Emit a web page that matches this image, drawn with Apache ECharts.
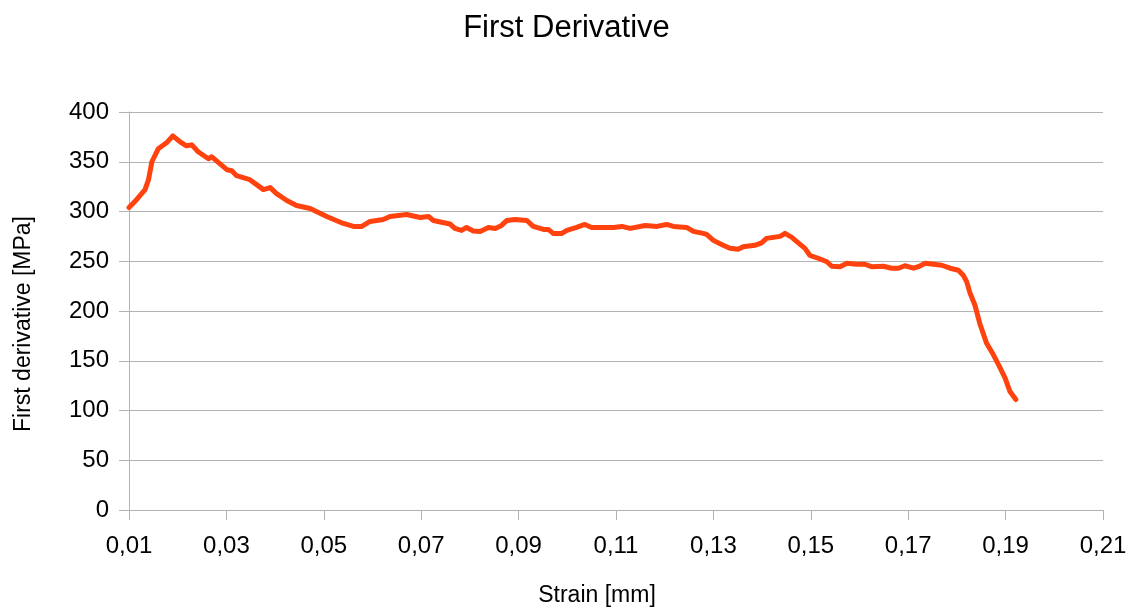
<!DOCTYPE html>
<html>
<head>
<meta charset="utf-8">
<script src="https://cdn.jsdelivr.net/npm/echarts@6/dist/echarts.min.js"></script>
<style>
html,body{margin:0;padding:0;background:#fff;}
#chart{width:1133px;height:615px;}
</style>
</head>
<body>
<div id="chart"></div>
<script>
var strain = [
0.0100,0.0112,0.0133,0.0140,0.0147,0.0160,0.0177,0.0190,0.0205,0.0218,
0.0229,0.0242,0.0263,0.0270,0.0301,0.0311,0.0321,0.0348,0.0362,0.0376,
0.0390,0.0403,0.0424,0.0444,0.0472,0.0506,0.0540,0.0561,0.0578,0.0595,
0.0622,0.0636,0.0670,0.0698,0.0715,0.0725,0.0759,0.0769,0.0783,0.0793,
0.0807,0.0821,0.0838,0.0852,0.0865,0.0876,0.0893,0.0917,0.0930,0.0951,
0.0961,0.0971,0.0989,0.0999,0.1019,0.1036,0.1050,0.1067,0.1095,0.1112,
0.1129,0.1160,0.1184,0.1204,0.1218,0.1245,0.1259,0.1279,0.1286,0.1300,
0.1320,0.1334,0.1351,0.1361,0.1385,0.1399,0.1409,0.1423,0.1437,0.1447,
0.1461,0.1478,0.1488,0.1498,0.1515,0.1533,0.1543,0.1560,0.1574,0.1594,
0.1611,0.1625,0.1649,0.1666,0.1680,0.1693,0.1711,0.1721,0.1735,0.1752,
0.1769,0.1786,0.1803,0.1813,0.1820,0.1827,0.1837,0.1847,0.1861,0.1875,
0.1889,0.1899,0.1909,0.1921
];
var derivative = [
304,310,322,332,350,363,369,376,370,366,
367,360,353,355,342,341,336,332,327,322,
324,318,311,306,303,295,288,285,285,290,
292,295,297,294,295,291,287.5,283,281,284,
280.5,280,284,283,286,291,292,291,285,282,
282,278,278,281,284,287,284,284,284,285,
283,286,285,287,285,284,280,278,277,271,
266,263,262,264.5,266,268.5,273,274,275,278,
274,267,263,256,253,249.5,245,244.5,248,247,
247,244.5,245,243,243,245.5,243,244.5,248,247,
246,243,241,236,229.5,218,206,187.5,167.5,156,
142.5,132.5,119,111
];
var titleText = 'First Derivative';
var xName = 'Strain [mm]';
var yName = 'First derivative [MPa]';

var pts = strain.map(function(x, i){ return [x, derivative[i]]; });
var font = '"Liberation Sans", Arial, sans-serif';
var chart = echarts.init(document.getElementById('chart'), null, {renderer:'canvas'});
chart.setOption({
  animation: false,
  backgroundColor: '#ffffff',
  title: {
    text: titleText, left: 'center', top: 8,
    textStyle: {fontFamily: font, fontSize: 31, fontWeight: 'normal', color: '#000'}
  },
  grid: {left: 129, right: 30, top: 112, bottom: 105, containLabel: false},
  xAxis: {
    type: 'value', min: 0.01, max: 0.21, interval: 0.02,
    name: xName, nameLocation: 'middle', nameGap: 74,
    nameTextStyle: {fontFamily: font, fontSize: 23, color: '#000', padding: [0, 38, 0, 0]},
    axisLine: {show: true, lineStyle: {color: '#b3b3b3', width: 1}},
    axisTick: {show: true, length: 10, inside: false, lineStyle: {color: '#b3b3b3'}},
    axisLabel: {fontFamily: font, fontSize: 24, color: '#000', margin: 24,
      formatter: function(v){ return v.toFixed(2).replace('.', ','); }},
    splitLine: {show: false}
  },
  yAxis: {
    type: 'value', min: 0, max: 400, interval: 50,
    name: yName, nameLocation: 'middle', nameGap: 94,
    nameTextStyle: {fontFamily: font, fontSize: 23, color: '#000', padding: [0, 26, 0, 0]},
    axisLine: {show: true, lineStyle: {color: '#b3b3b3', width: 1}},
    axisTick: {show: true, length: 10, inside: false, lineStyle: {color: '#b3b3b3'}},
    axisLabel: {fontFamily: font, fontSize: 24, color: '#000', margin: 20},
    splitLine: {show: true, lineStyle: {color: '#b3b3b3', width: 1}}
  },
  series: [{
    type: 'line', data: pts, showSymbol: false, smooth: false,
    lineStyle: {color: '#ff420e', width: 5, cap: 'round', join: 'round'},
    itemStyle: {color: '#ff420e'}
  }]
});
</script>
</body>
</html>
